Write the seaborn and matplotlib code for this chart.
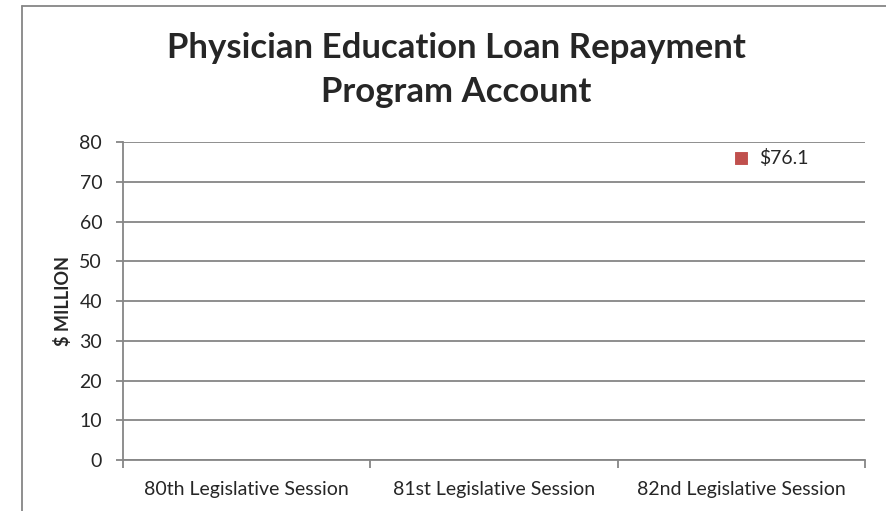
import numpy as np
import pandas as pd
import matplotlib
matplotlib.use("Agg")
import matplotlib.pyplot as plt
import seaborn as sns
from matplotlib.lines import Line2D

sessions = ["80th Legislative Session", "81st Legislative Session", "82nd Legislative Session"]
amounts = [np.nan, np.nan, 76.1]
labels = ["", "", "$76.1"]
y_ticks = [0, 10, 20, 30, 40, 50, 60, 70, 80]

df = pd.DataFrame({"session": sessions, "amount": amounts})

sns.set_style("white")
plt.rcParams["font.family"] = ["Lato", "DejaVu Sans"]

grey = "#868686"
red = "#C0504D"

fig = plt.figure(figsize=(8.87, 5.11), dpi=100)
ax = fig.add_axes([123 / 887, 1 - 460 / 511, (865 - 123) / 887, (460 - 142) / 511])

x = np.arange(len(sessions))
sns.scatterplot(x=x, y=df["amount"], marker="s", s=65, color=red, edgecolor=red, ax=ax, zorder=3)

for xi, v, lab in zip(x, amounts, labels):
    if not np.isnan(v):
        ax.annotate(lab, (xi, v), xytext=(13, 0), textcoords="offset points",
                    va="center", ha="left", fontsize=14)

ax.set_xlim(-0.5, len(sessions) - 0.5)
ax.set_ylim(0, 80)
ax.set_yticks(y_ticks)
ax.set_yticklabels([str(t) for t in y_ticks], fontsize=14)
ax.yaxis.grid(True, color=grey, linewidth=1.3)
ax.set_axisbelow(True)

# category labels between the boundary ticks
ax.set_xticks(np.arange(len(sessions) + 1) - 0.5)
ax.set_xticklabels([])
ax.set_xticks(x, minor=True)
ax.set_xticklabels(sessions, minor=True, fontsize=14)
ax.tick_params(axis="x", which="minor", length=0, pad=15)
ax.tick_params(axis="x", which="major", length=6, width=1.3, color=grey, direction="out")
ax.tick_params(axis="y", length=5, width=1.3, color=grey, direction="out", pad=10)
ax.tick_params(axis="both", which="both", bottom=True, left=True)

for side in ["top", "right"]:
    ax.spines[side].set_visible(False)
for side in ["left", "bottom"]:
    ax.spines[side].set_color(grey)
    ax.spines[side].set_linewidth(1.3)

ax.set_xlabel("")
ax.set_ylabel("$ MILLION", fontsize=13, fontweight="bold", labelpad=5)

fig.text(456 / 887, 1 - 70 / 511, "Physician Education Loan Repayment\nProgram Account",
         ha="center", va="center", fontsize=25, fontweight="bold", linespacing=1.5)

# chart area border (only left and top visible in the crop)
x0 = 22 / 887
y0 = 1 - 6 / 511
fig.add_artist(Line2D([x0, x0], [0, y0], transform=fig.transFigure, color=grey, linewidth=1.3))
fig.add_artist(Line2D([x0, 1], [y0, y0], transform=fig.transFigure, color=grey, linewidth=1.3))

fig.savefig("out.png", dpi=100)
